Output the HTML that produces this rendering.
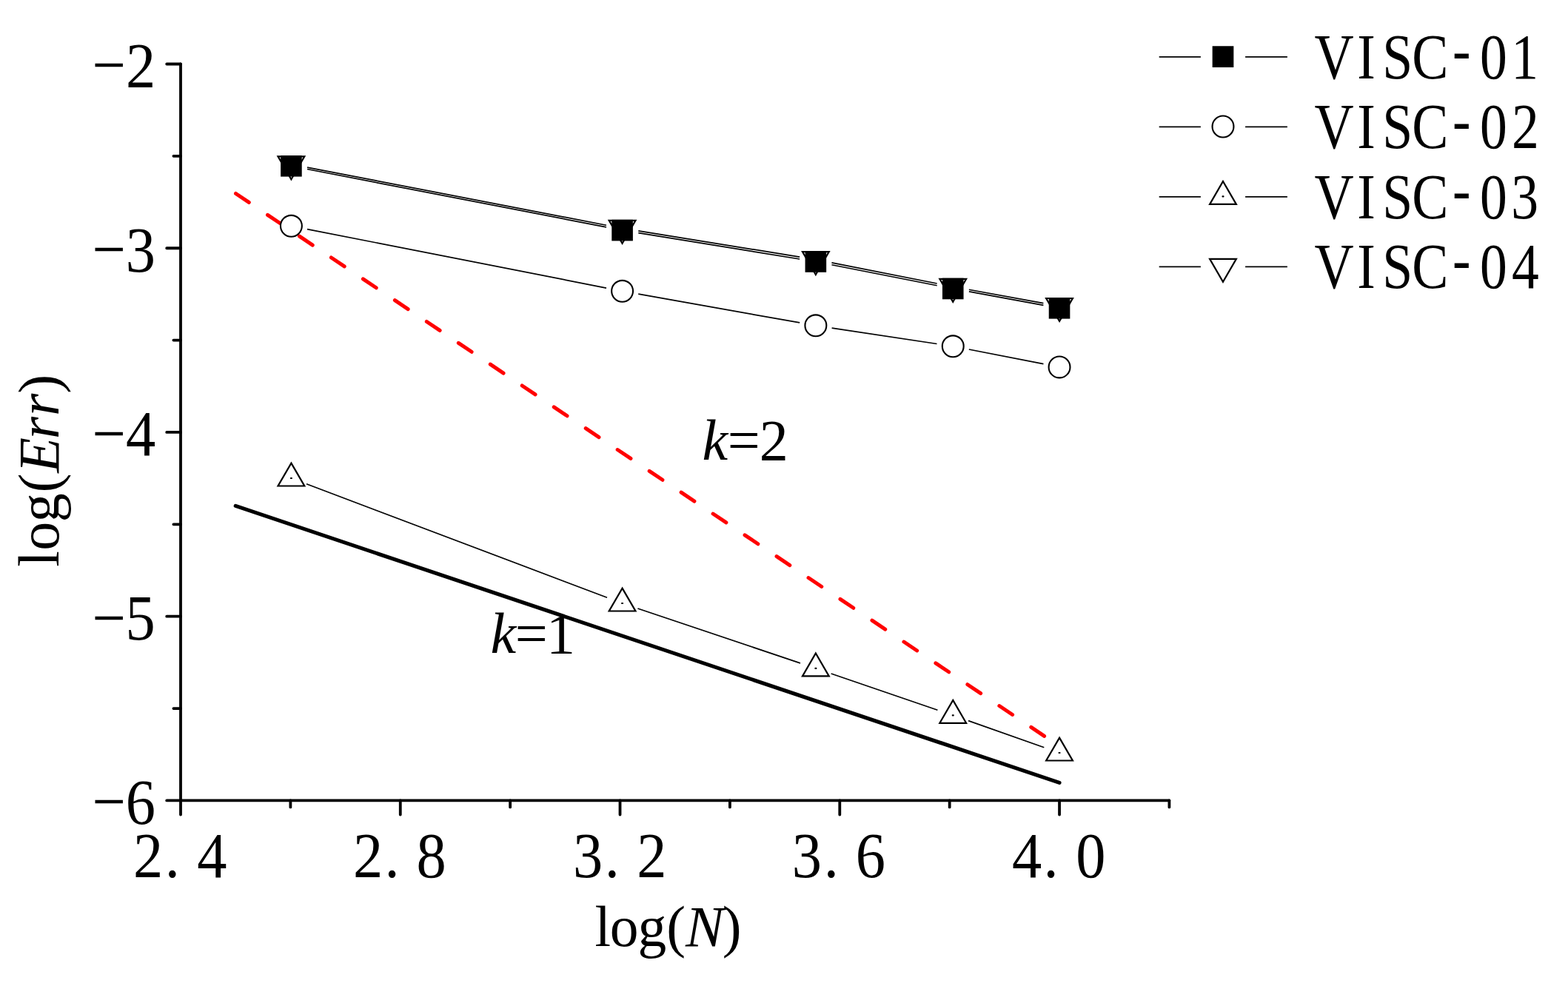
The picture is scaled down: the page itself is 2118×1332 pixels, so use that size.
<!DOCTYPE html>
<html><head><meta charset="utf-8"><title>chart</title>
<style>
html,body{margin:0;padding:0;background:#fff;overflow:hidden;}
svg{display:block;}
text{font-family:"Liberation Serif","Noto Serif CJK SC",serif;fill:#000;}
</style></head>
<body>
<svg width="2118" height="1332" viewBox="0 0 2118 1332">
<rect width="2118" height="1332" fill="#fff"/>
<line x1="318.19" y1="683.44" x2="1431.04" y2="1057.43" stroke="#000" stroke-width="5.1" stroke-linecap="round"/>
<line x1="318.19" y1="261.26" x2="1431.04" y2="1008.03" stroke="#f00" stroke-width="5" stroke-linecap="round" stroke-dasharray="21.4 30.35" stroke-dashoffset="-0.4"/>
<path d="M413.98 653.78L820 807.22M861.43 822.01L1081.01 895.89M1122.68 910.02L1266.43 959.18M1307.99 973.62L1410.29 1009.68" fill="none" stroke="#000" stroke-width="1.7"/>
<path d="M414.99 309.55L818.99 389.05M862.24 397.15L1080.2 435.95M1123.61 443.09L1265.49 464.51M1308.84 472.02L1409.45 491.68" fill="none" stroke="#000" stroke-width="1.7"/>
<path d="M415 226.08L818.98 304.22M862.3 311.91L1080.14 347.09M1123.44 354.87L1265.66 383.03M1308.89 391.24L1409.4 409.56" fill="none" stroke="#000" stroke-width="1.7"/>
<path d="M415 228.49L818.98 306.91M862.29 314.62L1080.14 349.98M1123.45 357.75L1265.66 385.75M1308.89 393.96L1409.4 412.34" fill="none" stroke="#000" stroke-width="1.7"/>
<path d="M393.4 625.6L411.3 656.5L375.5 656.5Z" fill="#fff" stroke="#000" stroke-width="2.2" stroke-linejoin="miter"/><rect x="391.9" y="644.9" width="3" height="2.2" rx="0.8" fill="#000"/>
<path d="M840.58 794.6L858.48 825.5L822.68 825.5Z" fill="#fff" stroke="#000" stroke-width="2.2" stroke-linejoin="miter"/><rect x="839.08" y="813.9" width="3" height="2.2" rx="0.8" fill="#000"/>
<path d="M1101.86 882.5L1119.76 913.4L1083.96 913.4Z" fill="#fff" stroke="#000" stroke-width="2.2" stroke-linejoin="miter"/><rect x="1100.36" y="901.8" width="3" height="2.2" rx="0.8" fill="#000"/>
<path d="M1287.24 945.9L1305.14 976.8L1269.34 976.8Z" fill="#fff" stroke="#000" stroke-width="2.2" stroke-linejoin="miter"/><rect x="1285.74" y="965.2" width="3" height="2.2" rx="0.8" fill="#000"/>
<path d="M1431.04 996.6L1448.94 1027.5L1413.14 1027.5Z" fill="#fff" stroke="#000" stroke-width="2.2" stroke-linejoin="miter"/><rect x="1429.54" y="1015.9" width="3" height="2.2" rx="0.8" fill="#000"/>
<circle cx="393.4" cy="305.3" r="14.45" fill="#fff" stroke="#000" stroke-width="2.1"/>
<circle cx="840.58" cy="393.3" r="14.45" fill="#fff" stroke="#000" stroke-width="2.1"/>
<circle cx="1101.86" cy="439.8" r="14.45" fill="#fff" stroke="#000" stroke-width="2.1"/>
<circle cx="1287.24" cy="467.8" r="14.45" fill="#fff" stroke="#000" stroke-width="2.1"/>
<circle cx="1431.04" cy="495.9" r="14.45" fill="#fff" stroke="#000" stroke-width="2.1"/>
<path d="M393.4 242.3L411.3 211.4L375.5 211.4Z" fill="#fff" stroke="#000" stroke-width="2.2" stroke-linejoin="miter"/>
<path d="M840.58 328.8L858.48 297.9L822.68 297.9Z" fill="#fff" stroke="#000" stroke-width="2.2" stroke-linejoin="miter"/>
<path d="M1101.86 371L1119.76 340.1L1083.96 340.1Z" fill="#fff" stroke="#000" stroke-width="2.2" stroke-linejoin="miter"/>
<path d="M1287.24 407.7L1305.14 376.8L1269.34 376.8Z" fill="#fff" stroke="#000" stroke-width="2.2" stroke-linejoin="miter"/>
<path d="M1431.04 433.9L1448.94 403L1413.14 403Z" fill="#fff" stroke="#000" stroke-width="2.2" stroke-linejoin="miter"/>
<rect x="379.1" y="210" width="28.6" height="28.6" fill="#000"/>
<rect x="826.28" y="296.8" width="28.6" height="28.6" fill="#000"/>
<rect x="1087.56" y="339.2" width="28.6" height="28.6" fill="#000"/>
<rect x="1272.94" y="375.7" width="28.6" height="28.6" fill="#000"/>
<rect x="1416.74" y="402" width="28.6" height="28.6" fill="#000"/>
<path d="M244 86.5V1081.4H1579.4" fill="none" stroke="#000" stroke-width="3.8" stroke-linecap="round" stroke-linejoin="miter"/>
<path d="M225.2 86.5H244M225.2 335.23H244M225.2 583.95H244M225.2 832.67H244M225.2 1081.4H244M234.4 210.86H244M234.4 459.59H244M234.4 708.31H244M234.4 957.04H244M244 1081.4V1100.5M540.76 1081.4V1100.5M837.52 1081.4V1100.5M1134.28 1081.4V1100.5M1431.04 1081.4V1100.5M392.38 1081.4V1090.4M689.14 1081.4V1090.4M985.9 1081.4V1090.4M1282.66 1081.4V1090.4M1579.42 1081.4V1090.4" fill="none" stroke="#000" stroke-width="3.8" stroke-linecap="round"/>
<text transform="matrix(0.92 0 0 1 0 0)" x="135.39 184.81" y="117.45 118" font-size="87.5">−2</text>
<text transform="matrix(0.92 0 0 1 0 0)" x="135.39 184.48" y="366.15 366.7" font-size="87.5">−3</text>
<text transform="matrix(0.92 0 0 1 0 0)" x="135.39 184.91" y="614.95 615.5" font-size="87.5">−4</text>
<text transform="matrix(0.92 0 0 1 0 0)" x="135.39 184.25" y="863.65 864.2" font-size="87.5">−5</text>
<text transform="matrix(0.92 0 0 1 0 0)" x="135.39 184.5" y="1112.35 1112.9" font-size="87.5">−6</text>
<text transform="matrix(0.92 0 0 1 0 0)" x="195.74 242.16 289.37" y="1184.8" font-size="87.5">2.4</text>
<text transform="matrix(0.92 0 0 1 0 0)" x="518.62 564.82 611.55" y="1184.8" font-size="87.5">2.8</text>
<text transform="matrix(0.92 0 0 1 0 0)" x="841.38 887.81 935.03" y="1184.8" font-size="87.5">3.2</text>
<text transform="matrix(0.92 0 0 1 0 0)" x="1162.85 1209.5 1256.3" y="1184.8" font-size="87.5">3.6</text>
<text transform="matrix(0.92 0 0 1 0 0)" x="1486 1532.21 1579.54" y="1184.8" font-size="87.5">4.0</text>
<text transform="matrix(0.84 0 0 1 0 0)" x="2113.69 2182.38 2223.08 2270.48 2335.71 2379.68 2430.19" y="106 106 106 106 96.46 106 106" font-size="87.7">VISC-01</text>
<text transform="matrix(0.84 0 0 1 0 0)" x="2113.69 2182.38 2223.08 2270.48 2335.71 2379.68 2431.07" y="200.3 200.3 200.3 200.3 190.76 200.3 200.3" font-size="87.7">VISC-02</text>
<text transform="matrix(0.84 0 0 1 0 0)" x="2113.69 2182.38 2223.08 2270.48 2335.71 2379.68 2430.07" y="294.6 294.6 294.6 294.6 285.06 294.6 294.6" font-size="87.7">VISC-03</text>
<text transform="matrix(0.84 0 0 1 0 0)" x="2113.69 2182.38 2223.08 2270.48 2335.71 2379.68 2430.82" y="388.9 388.9 388.9 388.9 379.36 388.9 388.9" font-size="87.7">VISC-04</text>
<path d="M1565.7 76.9H1621.9M1682.1 76.9H1738.9" stroke="#000" stroke-width="1.8"/>
<path d="M1565.7 171.4H1621.9M1682.1 171.4H1738.9" stroke="#000" stroke-width="1.8"/>
<path d="M1565.7 265.8H1621.9M1682.1 265.8H1738.9" stroke="#000" stroke-width="1.8"/>
<path d="M1565.7 360.3H1621.9M1682.1 360.3H1738.9" stroke="#000" stroke-width="1.8"/>
<rect x="1637.65" y="62.25" width="28.7" height="28.7" fill="#000"/>
<circle cx="1652" cy="171" r="14.45" fill="#fff" stroke="#000" stroke-width="2.1"/>
<path d="M1652 245L1669.9 275.9L1634.1 275.9Z" fill="#fff" stroke="#000" stroke-width="2.2" stroke-linejoin="miter"/><rect x="1650.5" y="264.3" width="3" height="2.2" rx="0.8" fill="#000"/>
<path d="M1652 380.8L1669.9 349.9L1634.1 349.9Z" fill="#fff" stroke="#000" stroke-width="2.2" stroke-linejoin="miter"/>
<text y="620.8" font-size="78"><tspan x="948.4" font-style="italic">k</tspan><tspan x="982.87 1025.64">=2</tspan></text>
<text y="881.7" font-size="78"><tspan x="662.6" font-style="italic">k</tspan><tspan x="695.87 738.01">=1</tspan></text>
<text y="1277.6" font-size="77.5"><tspan x="803.38 823.83 861.45 900.14">log(</tspan><tspan x="926.04" font-style="italic">N</tspan><tspan x="975.75">)</tspan></text>
<text y="0" font-size="78" transform="translate(78.6 0) rotate(-90)"><tspan x="-765.69 -743.85 -705.33 -665.44">log(</tspan><tspan x="-638.79 -593.22 -562.12" font-style="italic">Err</tspan><tspan x="-531.83">)</tspan></text>
</svg>
</body></html>
